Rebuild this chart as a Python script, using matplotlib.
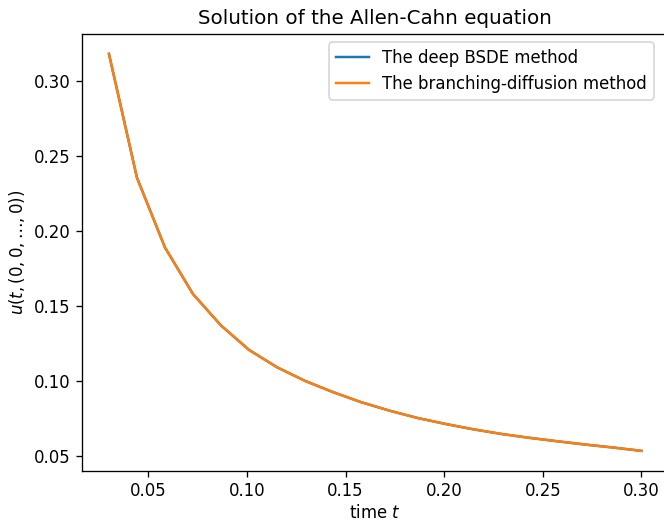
import numpy as np
import matplotlib
matplotlib.use("Agg")
import matplotlib.pyplot as plt

t = np.linspace(0.03, 0.3, 20)
u_bsde = [0.3184, 0.2357, 0.1891, 0.1580, 0.1370, 0.1207, 0.1091, 0.1000, 0.0925, 0.0858,
          0.0802, 0.0753, 0.0713, 0.0677, 0.0646, 0.0620, 0.0597, 0.0575, 0.0555, 0.0533]
u_branch = [0.3184, 0.2357, 0.1891, 0.1580, 0.1370, 0.1207, 0.1091, 0.1000, 0.0925, 0.0858,
            0.0802, 0.0753, 0.0713, 0.0677, 0.0646, 0.0620, 0.0597, 0.0575, 0.0555, 0.0533]

W, H = 664, 522
DPI = 119
fig = plt.figure(figsize=(W / DPI, H / DPI), dpi=DPI)
left, right, top, bottom = 82.3, 668, 34, 470.7
ax = fig.add_axes([left / W, 1 - bottom / H, (right - left) / W, (bottom - top) / H])

ax.plot(t, u_bsde, color="#1f77b4", label="The deep BSDE method")
ax.plot(t, u_branch, color="#ff7f0e", label="The branching-diffusion method")
ax.set_title("Solution of the Allen-Cahn equation")
ax.set_xlabel("time $t$", labelpad=2)
ax.set_ylabel(r"$u(t, (0,0,\ldots,0))$")
ax.set_xticks([0.05, 0.10, 0.15, 0.20, 0.25, 0.30])
ax.set_yticks([0.05, 0.10, 0.15, 0.20, 0.25, 0.30])
ax.legend(loc="upper right", bbox_to_anchor=(662 / W, 1 - top / H), bbox_transform=fig.transFigure)

fig.savefig("out.png", dpi=DPI)
